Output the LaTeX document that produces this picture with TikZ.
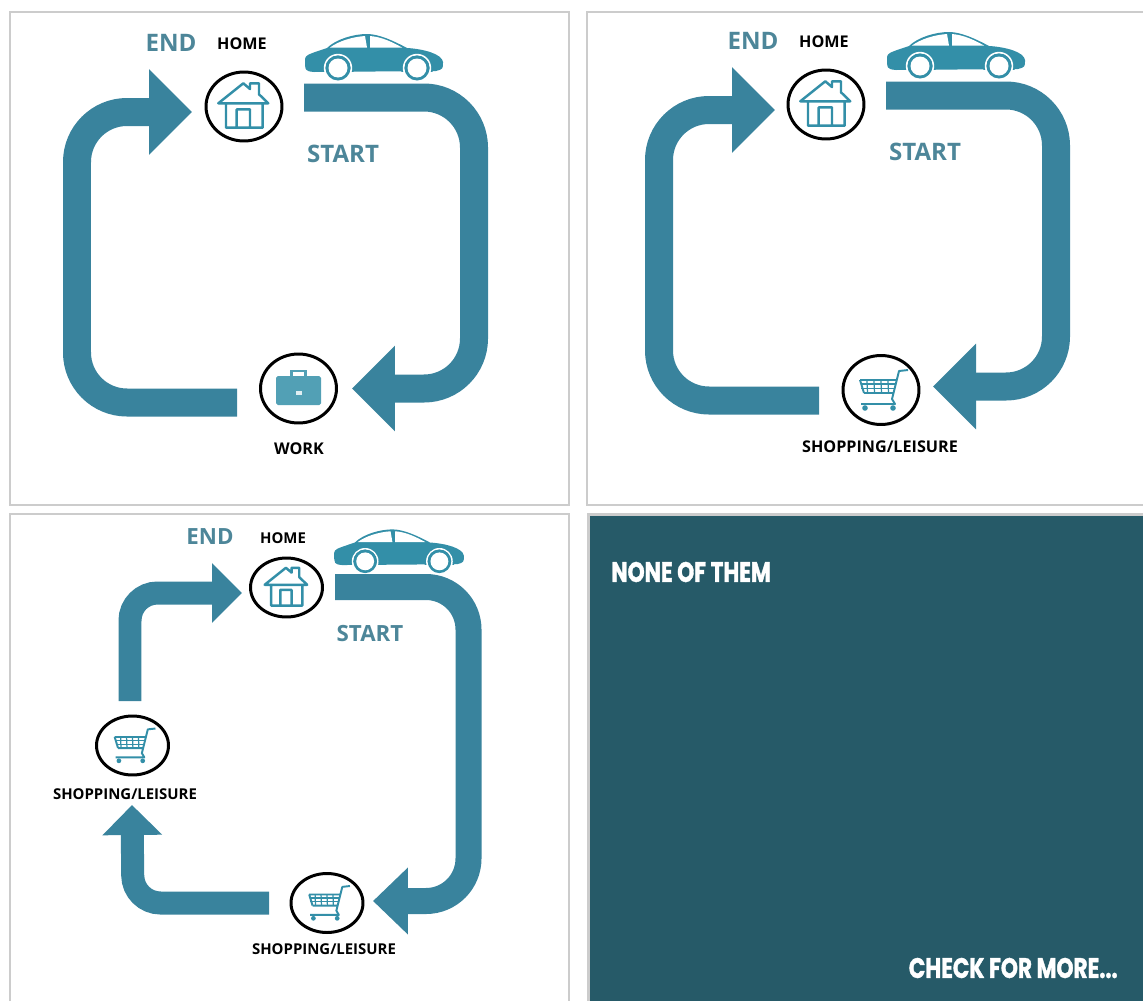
\documentclass[tikz,border=0pt]{standalone}
\usepackage{fontspec}
\setmainfont{Open Sans}
\newfontfamily\postfont[BoldFeatures={FakeBold=1.6}]{Poppins}
\usetikzlibrary{arrows.meta, shapes.geometric}
\definecolor{flow}{HTML}{39839D}
\definecolor{icon}{HTML}{338FA8}
\definecolor{tag}{HTML}{4D8699}
\definecolor{frame}{HTML}{CCCCCC}
\definecolor{post}{HTML}{265A68}
\tikzset{
  pics/caricon/.style={code={
    \fill[icon] (-69,2) .. controls (-68,-2) .. (-47,-9) .. controls (-38,-18) and (-20,-23) .. (-7,-23)
      .. controls (5,-23) and (20,-16) .. (33,-9) .. controls (50,-8) and (68,-3) .. (69,5)
      .. controls (69,12) .. (62,14) -- (-60,15) .. controls (-69,14) .. (-69,2) -- cycle;
    \fill[white] (-44,-9.5) .. controls (-35,-16) and (-22,-20) .. (-9,-21) -- (-7,-9.5) -- cycle;
    \fill[white] (-4,-21) .. controls (8,-20) and (18,-15) .. (28,-9.5) -- (-4,-9.5) -- cycle;
    \foreach \wx in {-36,43} {
      \fill[icon] (\wx,11) circle (16);
      \fill[white] (\wx,11) circle (14.2);
      \fill[icon] (\wx,11) circle (12.5);
      \fill[white] (\wx,11) circle (9.5);
    }
    \fill[white] (-55,15) rectangle (-17,30) (24,15) rectangle (62,30);
    \foreach \wx in {-36,43} {
      \fill[icon] (\wx,11) circle (12.5);
      \fill[white] (\wx,11) circle (9.5);
    }
  }},
  pics/houseicon/.style={code={
    \draw[icon, line width=1.4pt, line join=round]
      (-25.7,-3.2) -- (-0.7,-23.2) -- (6,-17.5) -- (6,-23.2) -- (15,-23.2) -- (15,-12.2)
      -- (24.3,-3.2) -- cycle
      (-18,-3.2) -- (-18,21.2) -- (18.7,21.2) -- (18.7,-3.2)
      (-7.3,21.2) -- (-7.3,2.8) -- (6,2.8) -- (6,21.2);
  }},
  pics/caseicon/.style={code={
    \draw[icon!85, line width=1.4pt] (-7,-12.5) -- (-7,-17.5) -- (7,-17.5) -- (7,-12.5);
    \fill[icon!85, rounded corners=1pt] (-22.5,-12.5) rectangle (22.5,16.5);
    \fill[white!85!icon] (-3,2) rectangle (3,6);
  }},
  pics/carticon/.style={code={
    \draw[icon, line width=1.1pt, line join=round]
      (27,-20) -- (18,-19) -- (11,9) -- (14,14) -- (-20,14)
      (-21,-10) -- (15,-10) (-17,3) -- (12,3) (-21,-10) -- (-17,3);
    \foreach \gx in {-14,-7,0,7} {
      \draw[icon, line width=.7pt] (\gx,-10) -- (\gx+.5,3);
    }
    \foreach \gy in {-6,-1.5} {
      \draw[icon, line width=.7pt] (-20,\gy) -- (14,\gy);
    }
    \fill[icon] (-16,18) circle (2.8) (12,18) circle (2.8);
  }}
}

\begin{document}
\begin{tikzpicture}[
  x=0.02cm, y=-0.02cm,
  panel/.style={draw=frame, line width=1.4pt},
  spot/.style={draw=black, ellipse, line width=1.7pt, inner sep=0pt},
  bigspot/.style={spot, minimum width=1.52cm, minimum height=1.38cm},
  smallspot/.style={spot, minimum width=1.44cm, minimum height=1.18cm},
  bigflow/.style={draw=flow, line width=0.56cm, rounded corners=1cm,
                  -{Triangle[length=0.86cm, width=1.66cm]}},
  midflow/.style={draw=flow, line width=0.52cm, rounded corners=0.85cm,
                  -{Triangle[length=0.7cm, width=1.3cm]}},
  thinflow/.style={draw=flow, line width=0.46cm, rounded corners=0.55cm,
                   -{Triangle[length=0.6cm, width=1.16cm]}},
  bigtag/.style={text=tag, font=\fontsize{13.7}{14}\selectfont\bfseries},
  midtag/.style={text=tag, font=\fontsize{12.7}{14}\selectfont\bfseries},
  place/.style={text=black, font=\fontsize{9.2}{10}\selectfont\bfseries},
  smallplace/.style={text=black, font=\fontsize{8.5}{10}\selectfont\bfseries},
  posttext/.style={text=white, font=\postfont\fontsize{16}{18}\selectfont\bfseries},
]
\useasboundingbox (0,0) rectangle (1143,1001);

% Frames
\draw[panel] (10,12) rectangle (569,505);
\draw[panel] (1143,12) -- (587,12) -- (587,505) -- (1143,505);
\draw[panel] (10,1001) -- (10,514) -- (569,514) -- (569,1001);

% Top left: home and work
\node[bigspot] (home1) at (244,106.5) {};
\node[bigspot] (work1) at (298.5,388.5) {};
\pic at (home1) {houseicon};
\pic at (work1) {caseicon};
\pic at (374,57) {caricon};
\node[bigtag] (end1) at (171,43) {END};
\node[place] (hometag1) at (242,44) {HOME};
\node[bigtag] (start1) at (343,154) {START};
\node[place] (worktag1) at (299,449) {WORK};
\coordinate (out1) at (304,97.5);
\coordinate (in1) at (352,388.5);
\coordinate (back1) at (237,402.5);
\coordinate (tip1) at (192,112);
\draw[bigflow] (out1) -- (474,97.5) -- (474,388.5) -- (in1);
\draw[bigflow] (back1) -- (77,402.5) -- (77,112) -- (tip1);

% Top right: home and shopping
\node[bigspot] (home2) at (826,104.5) {};
\node[bigspot] (shop2) at (881,390) {};
\pic at (home2) {houseicon};
\pic at (shop2) {carticon};
\pic at (956,55) {caricon};
\node[bigtag] (end2) at (753,41) {END};
\node[place] (hometag2) at (824,42) {HOME};
\node[bigtag] (start2) at (925,152) {START};
\node[place] (shoptag2) at (880,447) {SHOPPING/LEISURE};
\coordinate (out2) at (886,95.5);
\coordinate (in2) at (933,386.5);
\coordinate (back2) at (819,400.5);
\coordinate (tip2) at (775,110);
\draw[bigflow] (out2) -- (1056,95.5) -- (1056,386.5) -- (in2);
\draw[bigflow] (back2) -- (659,400.5) -- (659,110) -- (tip2);

% Bottom left: home and two shops
\node[smallspot] (home3) at (286.5,587.5) {};
\node[smallspot] (shop3) at (327,903) {};
\node[smallspot] (shop4) at (132.5,745.5) {};
\pic[scale=0.85] at (home3) {houseicon};
\pic[scale=0.85] at (shop3) {carticon};
\pic[scale=0.85] at (shop4) {carticon};
\pic[scale=0.94] at (399,551) {caricon};
\node[midtag] (end3) at (210,537) {END};
\node[smallplace] (hometag3) at (283,538) {HOME};
\node[midtag] (start3) at (370,634) {START};
\node[smallplace] (shoptag3) at (324,949) {SHOPPING/LEISURE};
\node[smallplace] (shoptag4) at (125,794) {SHOPPING/LEISURE};
\coordinate (out3) at (335,587);
\coordinate (in3) at (373,901);
\coordinate (back3) at (269,903);
\coordinate (up3) at (132,805);
\coordinate (leave3) at (130,701);
\coordinate (tip3) at (242,593);
\draw[midflow] (out3) -- (468.5,587) -- (468.5,901) -- (in3);
\draw[thinflow] (back3) -- (133,903) -- (up3);
\draw[thinflow] (leave3) -- (130,593) -- (tip3);

% Bottom right: dark panel
\fill[frame] (587,513) rectangle (1143,1001);
\fill[post] (590,516) rectangle (1143,1001);
\node[posttext, anchor=west, inner sep=0pt] (none) at (611,572) {\scalebox{0.77}[1]{NONE OF THEM}};
\node[posttext, anchor=east, inner sep=0pt] (more) at (1118,968) {\scalebox{0.77}[1]{CHECK FOR MORE...}};

\end{tikzpicture}
\end{document}
